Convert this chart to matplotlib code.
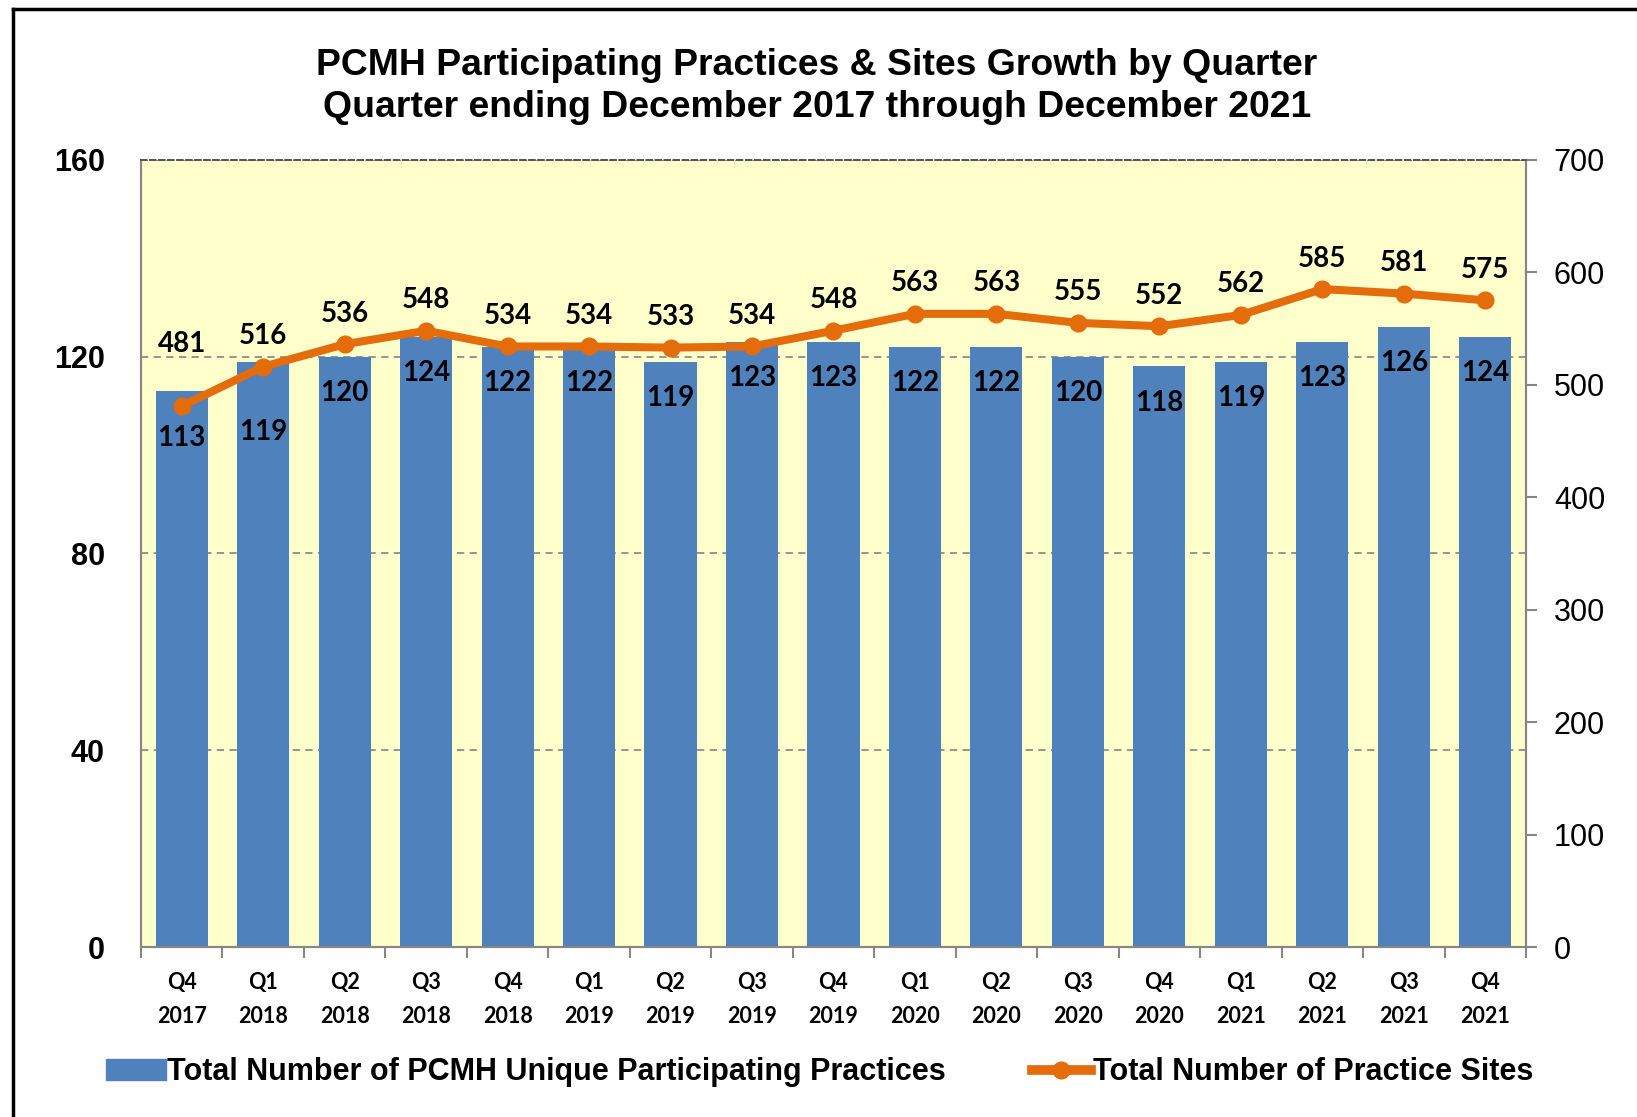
#!/usr/bin/env python3
# -*- coding: utf-8 -*-
"""PCMH participating practices & sites, bar + line combo chart."""

import numpy as np
import matplotlib
matplotlib.use("Agg")
import matplotlib.pyplot as plt
from matplotlib.lines import Line2D
from matplotlib.patches import Patch

# data
quarters = ["Q4\n2017", "Q1\n2018", "Q2\n2018", "Q3\n2018", "Q4\n2018",
            "Q1\n2019", "Q2\n2019", "Q3\n2019", "Q4\n2019", "Q1\n2020",
            "Q2\n2020", "Q3\n2020", "Q4\n2020", "Q1\n2021", "Q2\n2021",
            "Q3\n2021", "Q4\n2021"]
practices = [113, 119, 120, 124, 122, 122, 119, 123, 123, 122, 122,
             120, 118, 119, 123, 126, 124]
sites = [481, 516, 536, 548, 534, 534, 533, 534, 548, 563, 563,
         555, 552, 562, 585, 581, 575]

title = ("PCMH Participating Practices & Sites Growth by Quarter\n"
         "Quarter ending December 2017 through December 2021")
bar_label = "Total Number of PCMH Unique Participating Practices"
line_label = "Total Number of Practice Sites"

BAR_COLOR = "#4F81BD"
LINE_COLOR = "#E46C0A"
BG_COLOR = "#FFFFCC"
AXIS_GRAY = "#868686"
LABEL_FONT = ["Lato", "DejaVu Sans"]
ARIAL = ["Liberation Sans", "DejaVu Sans"]

# label offsets in points; the first two points get nudged like Excel did
BAR_LABEL_OFFSET = -26
LINE_LABEL_OFFSET = 22
bar_offset_override = {0: -34, 1: -51}
line_offset_override = {0: 45}

fig = plt.figure(figsize=(16.37, 11.17), dpi=100)
ax = fig.add_axes([0.0861, 0.152, 0.8461, 0.705])
ax2 = ax.twinx()

x = np.arange(len(quarters))

# bars (left axis)
ax.set_facecolor(BG_COLOR)
ax.bar(x, practices, width=0.64, color=BAR_COLOR, zorder=2)
ax.set_xlim(-0.5, len(quarters) - 0.5)
ax.set_ylim(0, 160)
ax.set_yticks(np.arange(0, 161, 40))
ax.yaxis.grid(True, linestyle=(0, (4, 3)), color="#8c8c8c", linewidth=1.3)
ax.set_axisbelow(True)

for i, (xi, v) in enumerate(zip(x, practices)):
    off = bar_offset_override.get(i, BAR_LABEL_OFFSET)
    ax.annotate(str(v), (xi, v), xytext=(0, off), textcoords="offset points",
                ha="center", va="center", fontsize=20, fontweight="bold",
                family=LABEL_FONT, color="black", zorder=5)

# line (right axis)
ax2.plot(x, sites, color=LINE_COLOR, linewidth=5.8, marker="o",
         markersize=12, zorder=4)
ax2.set_ylim(0, 700)
ax2.set_yticks(np.arange(0, 701, 100))
for i, (xi, v) in enumerate(zip(x, sites)):
    off = line_offset_override.get(i, LINE_LABEL_OFFSET)
    ax2.annotate(str(v), (xi, v), xytext=(0, off), textcoords="offset points",
                 ha="center", va="center", fontsize=20, fontweight="bold",
                 family=LABEL_FONT, color="black")

# axes styling
ax.set_xticks(x)
ax.set_xticklabels(quarters, fontsize=15.5, fontweight="bold",
                   family=LABEL_FONT, linespacing=1.73)
ax.set_xticks(np.arange(-0.5, len(quarters), 1), minor=True)
ax.tick_params(axis="x", which="major", length=0, pad=18)
ax.tick_params(axis="x", which="minor", length=8, color=AXIS_GRAY, width=1.5)
ax.tick_params(axis="y", length=0, pad=26)
for lab in ax.get_yticklabels():
    lab.set_fontsize(22)
    lab.set_fontweight("bold")
    lab.set_family(ARIAL)

ax2.tick_params(axis="y", length=8, width=1.5, color=AXIS_GRAY, pad=12)
for lab in ax2.get_yticklabels():
    lab.set_fontsize(22)
    lab.set_family(ARIAL)

for a in (ax, ax2):
    for side in ("left", "right", "bottom"):
        a.spines[side].set_color(AXIS_GRAY)
        a.spines[side].set_linewidth(1.5)
    a.spines["top"].set_color("#555555")
    a.spines["top"].set_linestyle((0, (3, 2)))
    a.spines["top"].set_linewidth(1.3)

fig.text(0.499, 0.9225, title, ha="center", va="center", fontsize=26.9,
         fontweight="bold", family=ARIAL, linespacing=1.28)

# legend
handles = [Patch(facecolor=BAR_COLOR, edgecolor=BAR_COLOR),
           Line2D([], [], color=LINE_COLOR, linewidth=7, marker="o",
                  markersize=12)]
leg = fig.legend(handles, [bar_label, line_label], loc="center",
                 bbox_to_anchor=(0.5007, 0.040), ncol=2, frameon=False,
                 handlelength=1.95, handletextpad=0.05, columnspacing=2.8,
                 prop={"family": ARIAL, "weight": "bold", "size": 22})

# outer chart border (left and top edges visible)
fig.add_artist(Line2D([0.0077, 0.0077], [0, 0.9915], color="black",
                      linewidth=2.5, transform=fig.transFigure))
fig.add_artist(Line2D([0.0077, 1.0], [0.9915, 0.9915], color="black",
                      linewidth=2.5, transform=fig.transFigure))

fig.savefig("out.png", dpi=100, facecolor="white")
